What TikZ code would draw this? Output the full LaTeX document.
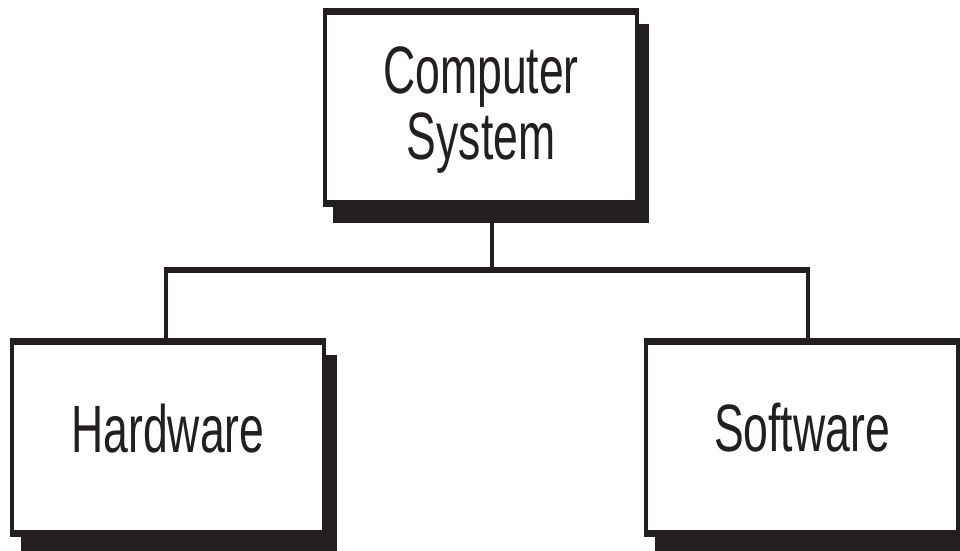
\documentclass[tikz,border=0pt]{standalone}
\usepackage{fontspec}
\newfontfamily\labfont{Liberation Sans}[FakeStretch=0.665]
\definecolor{ink}{RGB}{35,31,32}
\begin{document}
\begin{tikzpicture}[x=1pt,y=-1pt,
  box/.style={rectangle, draw=ink, line width=4pt, fill=white, inner sep=0pt, outer sep=0pt,
              minimum width=312pt, minimum height=192pt},
  hedge/.style={draw=ink, line width=7pt, shorten <=-2pt, shorten >=-2pt},
  shade/.style={fill=ink},
  lab/.style={font=\labfont\fontsize{67}{66}\selectfont, text=ink, inner sep=0pt, align=center},
  link/.style={draw=ink, line width=4pt},
  bus/.style={draw=ink, line width=6pt}]
\useasboundingbox (0,0) rectangle (960,550);
% shadows
\fill[shade] (333,24) rectangle (649,223);
\fill[shade] (21,355) rectangle (337,560);
\fill[shade] (655,355) rectangle (971,560);
% boxes
\node[box] (top) at (481,107.5) {};
\node[box] (hw) at (168,437.5) {};
\node[box] (sw) at (802,437.5) {};
\foreach \n in {top,hw,sw}{
  \draw[hedge] (\n.north west) -- (\n.north east);
  \draw[hedge] (\n.south west) -- (\n.south east);
}
% labels
\node[lab, anchor=north] (csl) at (481,47) {Computer\\System};
\node[lab, anchor=base] (hwl) at (168,452) {Hardware};
\node[lab, anchor=base] (swl) at (802,451) {Software};
% connectors
\coordinate (tj) at (492,270);
\coordinate (bl) at (164,270);
\coordinate (br) at (810,270);
\coordinate (hj) at (166,270);
\coordinate (sj) at (808,270);
\draw[link] (tj |- top.south) -- (tj);
\draw[bus] (bl) -- (br);
\draw[link] (hj) -- (hj |- hw.north);
\draw[link] (sj) -- (sj |- sw.north);
\end{tikzpicture}
\end{document}
